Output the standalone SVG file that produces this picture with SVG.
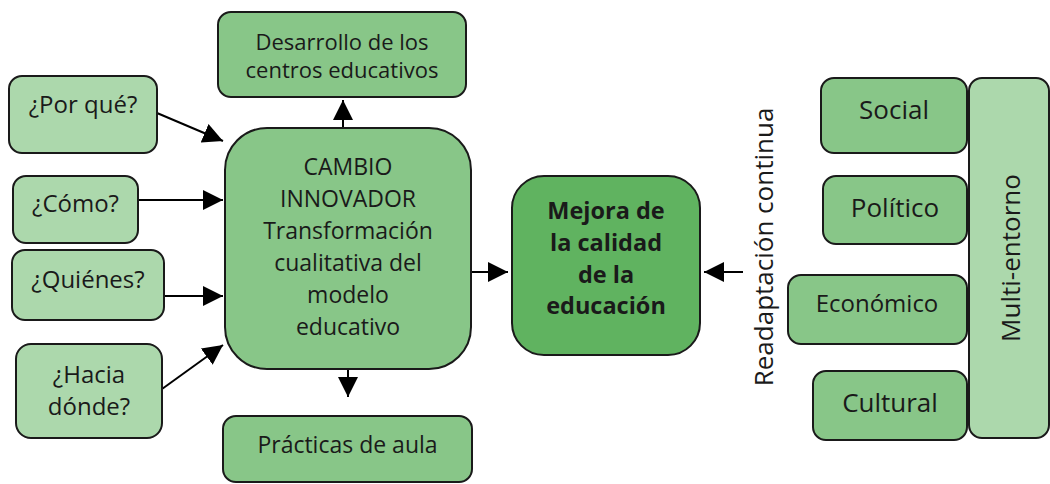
<svg xmlns="http://www.w3.org/2000/svg" width="1050" height="484" viewBox="0 0 1050 484">
<defs>
<style>
.lt{fill:#acd8ac;stroke:#1a1a1a;stroke-width:2}
.md{fill:#88c688;stroke:#1a1a1a;stroke-width:2}
.dk{fill:#60b360;stroke:#1a1a1a;stroke-width:2}
text{font-family:"Open Sans","Noto Sans","Liberation Sans",sans-serif;font-size:23px;fill:#1a1a1a;text-anchor:middle}
.q{font-size:24px}
.r{font-size:26px}
.b{font-weight:bold;font-size:23.5px}
.c{stroke:#000;stroke-width:2;fill:none;marker-end:url(#ah)}
</style>
<marker id="ah" viewBox="0 0 20 20" refX="20" refY="10" markerWidth="20" markerHeight="20" markerUnits="userSpaceOnUse" orient="auto">
<path d="M0,0 L20,10 L0,20 z" fill="#000"/>
</marker>
</defs>
<rect width="1050" height="484" fill="#fff"/>
<g id="connectors">
<line class="c" x1="157" y1="113" x2="223" y2="141"/>
<line class="c" x1="138" y1="200" x2="223" y2="200"/>
<line class="c" x1="164" y1="296" x2="223" y2="296"/>
<line class="c" x1="162" y1="389" x2="223" y2="345"/>
<line class="c" x1="343" y1="128" x2="343" y2="100"/>
<line class="c" x1="348" y1="369" x2="348" y2="397"/>
<line class="c" x1="471" y1="272" x2="508" y2="272"/>
<line class="c" x1="743" y1="272" x2="704" y2="272"/>
</g>
<g id="n-desarrollo">
<rect class="md" x="218" y="12" width="248" height="85" rx="13"/>
<text x="342" y="50" style="font-size:22px">Desarrollo de los</text>
<text x="342" y="78" style="font-size:22px">centros educativos</text>
</g>
<g id="n-porque">
<rect class="lt" x="9" y="76" width="148" height="77" rx="13"/>
<text class="q" x="83" y="113">¿Por qué?</text>
</g>
<g id="n-como">
<rect class="lt" x="13" y="176" width="125" height="67" rx="13"/>
<text class="q" x="75.5" y="212">¿Cómo?</text>
</g>
<g id="n-quienes">
<rect class="lt" x="12" y="250" width="152" height="70" rx="13"/>
<text class="q" x="88" y="288">¿Quiénes?</text>
</g>
<g id="n-hacia">
<rect class="lt" x="16" y="344" width="146" height="94" rx="15"/>
<text class="q" x="89" y="383">¿Hacia</text>
<text class="q" x="89" y="415">dónde?</text>
</g>
<g id="n-cambio">
<rect class="md" x="225" y="128" width="246" height="241" rx="42"/>
<text x="348" y="175">CAMBIO</text>
<text x="348" y="207">INNOVADOR</text>
<text x="348" y="239">Transformación</text>
<text x="348" y="271">cualitativa del</text>
<text x="348" y="303">modelo</text>
<text x="348" y="335">educativo</text>
</g>
<g id="n-practicas">
<rect class="md" x="223" y="416" width="249" height="66" rx="13"/>
<text x="347.5" y="453">Prácticas de aula</text>
</g>
<g id="n-mejora">
<rect class="dk" x="512" y="176" width="188" height="179" rx="32"/>
<text class="b" x="606" y="219">Mejora de</text>
<text class="b" x="606" y="251">la calidad</text>
<text class="b" x="606" y="283">de la</text>
<text class="b" x="606" y="314">educación</text>
</g>
<g id="l-readaptacion">
<text class="r" transform="translate(773,247) rotate(-90)">Readaptación continua</text>
</g>
<g id="n-multi">
<rect class="lt" x="969" y="78" width="80" height="360" rx="13"/>
<text class="r" transform="translate(1020,258) rotate(-90)">Multi-entorno</text>
</g>
<g id="n-social">
<rect class="md" x="821" y="78" width="146" height="75" rx="13"/>
<text class="r" x="894" y="119">Social</text>
</g>
<g id="n-politico">
<rect class="md" x="823" y="176" width="144" height="68" rx="13"/>
<text class="r" x="895" y="217">Político</text>
</g>
<g id="n-economico">
<rect class="md" x="788" y="275" width="179" height="69" rx="13"/>
<text x="877" y="312" style="font-size:24px">Económico</text>
</g>
<g id="n-cultural">
<rect class="md" x="813" y="371" width="154" height="69" rx="13"/>
<text class="r" x="890" y="412">Cultural</text>
</g>
</svg>
